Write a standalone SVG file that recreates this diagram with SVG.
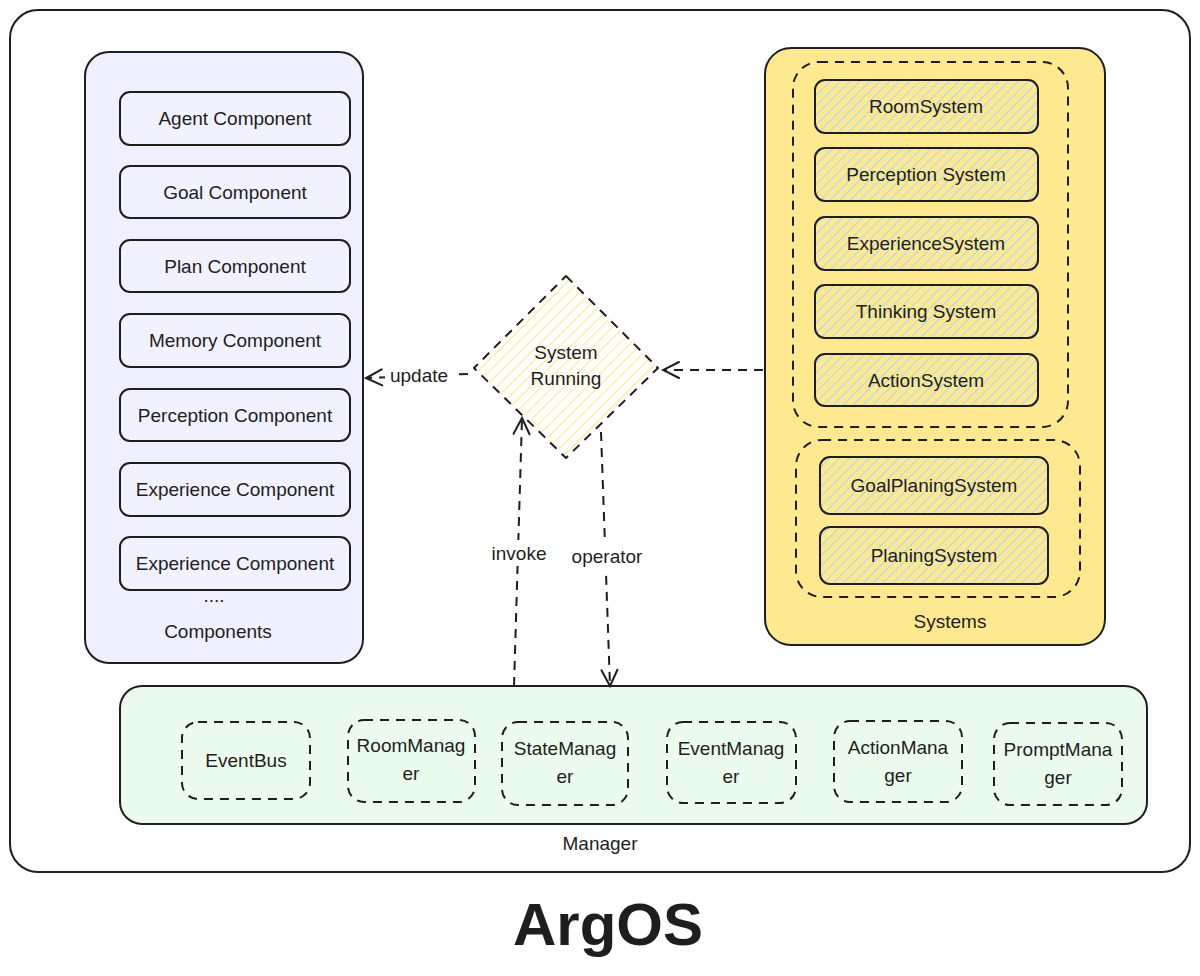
<svg xmlns="http://www.w3.org/2000/svg" width="1200" height="976" viewBox="0 0 1200 976">
<defs>
<style>
.solid{fill:none;stroke:#1e1e1e;stroke-width:2}
.dash{fill:none;stroke:#1e1e1e;stroke-width:2;stroke-dasharray:9 7}
.t{font-family:"Liberation Sans","DejaVu Sans",sans-serif;font-size:19px;fill:#1e1e1e;text-anchor:middle}
.cmp{fill:#f2f1ff;stroke:#1e1e1e;stroke-width:2}
.sys{fill:url(#blueHatch);stroke:#1e1e1e;stroke-width:2}
.mgr{fill:none;stroke:#1e1e1e;stroke-width:2;stroke-dasharray:9 7}
.lblbg{fill:#ffffff}
</style>
<pattern id="blueHatch" patternUnits="userSpaceOnUse" width="7" height="7" patternTransform="rotate(45)">
<rect width="7" height="7" fill="#ffe990"/>
<line x1="0" y1="0" x2="0" y2="7" stroke="#a5d8ff" stroke-width="2.2"/>
</pattern>
<pattern id="yellowHatch" patternUnits="userSpaceOnUse" width="8" height="8" patternTransform="rotate(45)">
<rect width="8" height="8" fill="#ffffff"/>
<line x1="0" y1="0" x2="0" y2="8" stroke="#ffe98a" stroke-width="2.2"/>
</pattern>
<marker id="arr" viewBox="0 0 20 20" refX="18" refY="10" markerWidth="20" markerHeight="20" markerUnits="userSpaceOnUse" orient="auto">
<path d="M2 2 L18 10 L2 18" fill="none" stroke="#1e1e1e" stroke-width="2" stroke-linecap="round"/>
</marker>
</defs>

<g id="frame">
<rect x="10" y="10" width="1180" height="862" rx="28" class="solid"/>
</g>

<g id="components">
<rect x="85" y="52" width="278" height="611" rx="24" fill="#f0efff" stroke="#1e1e1e" stroke-width="2"/>
<g id="agent-component"><rect x="120" y="92" width="230" height="53" rx="10" class="cmp"/><text x="235" y="125" class="t">Agent Component</text></g>
<g id="goal-component"><rect x="120" y="166" width="230" height="52" rx="10" class="cmp"/><text x="235" y="199" class="t">Goal Component</text></g>
<g id="plan-component"><rect x="120" y="240" width="230" height="52" rx="10" class="cmp"/><text x="235" y="273" class="t">Plan Component</text></g>
<g id="memory-component"><rect x="120" y="314" width="230" height="53" rx="10" class="cmp"/><text x="235" y="347" class="t">Memory Component</text></g>
<g id="perception-component"><rect x="120" y="389" width="230" height="52" rx="10" class="cmp"/><text x="235" y="422" class="t">Perception Component</text></g>
<g id="experience-component-1"><rect x="120" y="463" width="230" height="53" rx="10" class="cmp"/><text x="235" y="496" class="t">Experience Component</text></g>
<g id="experience-component-2"><rect x="120" y="537" width="230" height="53" rx="10" class="cmp"/><text x="235" y="570" class="t">Experience Component</text></g>
<text x="214" y="602" class="t" font-size="14">....</text>
<text x="218" y="638" class="t">Components</text>
</g>

<g id="systems">
<rect x="765" y="48" width="340" height="597" rx="26" fill="#ffe990" stroke="#1e1e1e" stroke-width="2"/>
<rect x="793" y="62" width="275" height="365" rx="26" class="dash"/>
<g id="room-system"><rect x="815" y="80" width="223" height="53" rx="10" class="sys"/><text x="926" y="113" class="t">RoomSystem</text></g>
<g id="perception-system"><rect x="815" y="148" width="223" height="53" rx="10" class="sys"/><text x="926" y="181" class="t">Perception System</text></g>
<g id="experience-system"><rect x="815" y="217" width="223" height="53" rx="10" class="sys"/><text x="926" y="250" class="t">ExperienceSystem</text></g>
<g id="thinking-system"><rect x="815" y="285" width="223" height="53" rx="10" class="sys"/><text x="926" y="318" class="t">Thinking System</text></g>
<g id="action-system"><rect x="815" y="354" width="223" height="52" rx="10" class="sys"/><text x="926" y="387" class="t">ActionSystem</text></g>
<rect x="796" y="440" width="284" height="157" rx="26" class="dash"/>
<g id="goal-planing-system"><rect x="820" y="457" width="228" height="57" rx="10" class="sys"/><text x="934" y="492" class="t">GoalPlaningSystem</text></g>
<g id="planing-system"><rect x="820" y="527" width="228" height="57" rx="10" class="sys"/><text x="934" y="562" class="t">PlaningSystem</text></g>
<text x="950" y="628" class="t">Systems</text>
</g>

<g id="system-running">
<path d="M566 276 L658 368 L566 458 L474 368 Z" fill="url(#yellowHatch)" stroke="#1e1e1e" stroke-width="2" stroke-dasharray="9 7" stroke-linejoin="round"/>
<text x="566" y="359" class="t">System</text>
<text x="566" y="385" class="t">Running</text>
</g>

<g id="manager">
<rect x="120" y="686" width="1027" height="138" rx="22" fill="#ebfbee" stroke="#1e1e1e" stroke-width="2"/>
<g id="eventbus"><rect x="182" y="722" width="128" height="77" rx="16" class="mgr"/><text x="246" y="767" class="t">EventBus</text></g>
<g id="roommanager"><rect x="348" y="720" width="127" height="82" rx="16" class="mgr"/><text x="411" y="752" class="t">RoomManag</text><text x="411" y="780" class="t">er</text></g>
<g id="statemanager"><rect x="502" y="722" width="126" height="83" rx="16" class="mgr"/><text x="565" y="755" class="t">StateManag</text><text x="565" y="783" class="t">er</text></g>
<g id="eventmanager"><rect x="667" y="722" width="129" height="81" rx="16" class="mgr"/><text x="731" y="755" class="t">EventManag</text><text x="731" y="783" class="t">er</text></g>
<g id="actionmanager"><rect x="834" y="721" width="128" height="81" rx="16" class="mgr"/><text x="898" y="754" class="t">ActionMana</text><text x="898" y="782" class="t">ger</text></g>
<g id="promptmanager"><rect x="994" y="723" width="128" height="82" rx="16" class="mgr"/><text x="1058" y="756" class="t">PromptMana</text><text x="1058" y="784" class="t">ger</text></g>
<text x="600" y="850" class="t" font-size="16">Manager</text>
</g>

<g id="connectors">
<path d="M468 374 L366 378" class="dash" marker-end="url(#arr)"/>
<rect x="385" y="364" width="68" height="24" class="lblbg"/>
<text x="419" y="382" class="t">update</text>
<path d="M763 370 L663 370" class="dash" marker-end="url(#arr)"/>
<path d="M514 686 L522 418" class="dash" marker-end="url(#arr)"/>
<rect x="486" y="540" width="66" height="26" class="lblbg"/>
<text x="519" y="560" class="t">invoke</text>
<path d="M601 432 L610 686" class="dash" marker-end="url(#arr)"/>
<rect x="562" y="544" width="92" height="28" class="lblbg"/>
<text x="607" y="563" class="t">operator</text>
</g>

<text x="608" y="945" font-family="Liberation Sans, DejaVu Sans, sans-serif" font-size="60" font-weight="bold" fill="#1e1e1e" text-anchor="middle">ArgOS</text>
</svg>
